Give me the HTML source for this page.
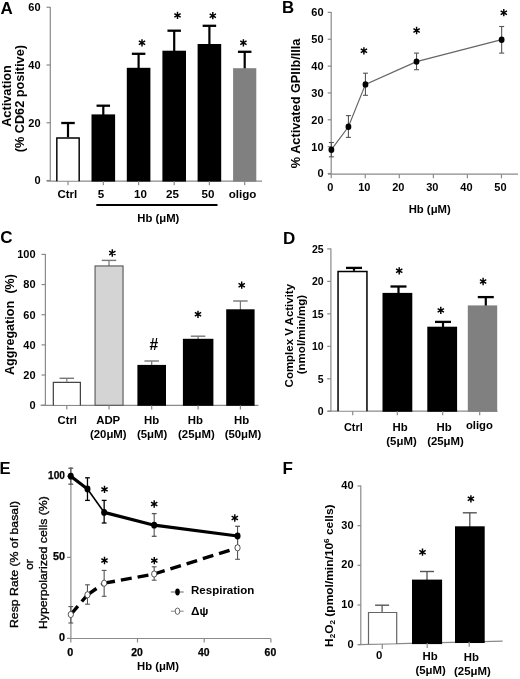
<!DOCTYPE html>
<html><head><meta charset="utf-8"><style>
html,body{margin:0;padding:0;background:#fff;}
svg{display:block;will-change:transform;}
text{font-family:"Liberation Sans", sans-serif;}
</style></head><body>
<svg width="520" height="679" viewBox="0 0 520 679">
<rect width="520" height="679" fill="#fff"/>
<text x="0.60" y="13.75" font-size="17" font-weight="bold" text-anchor="start" fill="#000" >A</text>
<line x1="50.30" y1="7.00" x2="50.30" y2="181.20" stroke="#8a8a8a" stroke-width="1.2" />
<line x1="46.50" y1="7.25" x2="50.30" y2="7.25" stroke="#8a8a8a" stroke-width="1.2" />
<text x="40.60" y="11.15" font-size="11" font-weight="bold" text-anchor="end" fill="#000" >60</text>
<line x1="46.50" y1="65.00" x2="50.30" y2="65.00" stroke="#8a8a8a" stroke-width="1.2" />
<text x="40.60" y="68.90" font-size="11" font-weight="bold" text-anchor="end" fill="#000" >40</text>
<line x1="46.50" y1="122.75" x2="50.30" y2="122.75" stroke="#8a8a8a" stroke-width="1.2" />
<text x="40.60" y="126.65" font-size="11" font-weight="bold" text-anchor="end" fill="#000" >20</text>
<line x1="46.50" y1="180.50" x2="50.30" y2="180.50" stroke="#8a8a8a" stroke-width="1.2" />
<text x="40.60" y="184.40" font-size="11" font-weight="bold" text-anchor="end" fill="#000" >0</text>
<line x1="46.80" y1="181.20" x2="262.00" y2="181.20" stroke="#8a8a8a" stroke-width="1.2" />
<line x1="68.00" y1="123.00" x2="68.00" y2="138.20" stroke="#000" stroke-width="2.2" />
<line x1="61.25" y1="123.00" x2="74.75" y2="123.00" stroke="#000" stroke-width="2.3" />
<rect x="56.10" y="137.20" width="23.80" height="43.30" fill="#fff"/>
<path d="M56.83,181.20V137.92H79.18V181.20" fill="none" stroke="#000" stroke-width="1.45"/>
<line x1="68.00" y1="181.20" x2="68.00" y2="185.20" stroke="#8a8a8a" stroke-width="1.2" />
<line x1="103.30" y1="105.70" x2="103.30" y2="115.40" stroke="#000" stroke-width="2.2" />
<line x1="96.55" y1="105.70" x2="110.05" y2="105.70" stroke="#000" stroke-width="2.3" />
<rect x="91.50" y="114.40" width="23.60" height="67.20" fill="#000"/>
<line x1="103.30" y1="181.20" x2="103.30" y2="185.20" stroke="#8a8a8a" stroke-width="1.2" />
<line x1="138.60" y1="53.80" x2="138.60" y2="68.80" stroke="#000" stroke-width="2.2" />
<line x1="131.85" y1="53.80" x2="145.35" y2="53.80" stroke="#000" stroke-width="2.3" />
<rect x="126.80" y="67.80" width="23.60" height="113.80" fill="#000"/>
<line x1="138.60" y1="181.20" x2="138.60" y2="185.20" stroke="#8a8a8a" stroke-width="1.2" />
<line x1="174.20" y1="30.70" x2="174.20" y2="51.70" stroke="#000" stroke-width="2.2" />
<line x1="167.45" y1="30.70" x2="180.95" y2="30.70" stroke="#000" stroke-width="2.3" />
<rect x="162.40" y="50.70" width="23.60" height="130.90" fill="#000"/>
<line x1="174.20" y1="181.20" x2="174.20" y2="185.20" stroke="#8a8a8a" stroke-width="1.2" />
<line x1="209.40" y1="25.80" x2="209.40" y2="45.00" stroke="#000" stroke-width="2.2" />
<line x1="202.65" y1="25.80" x2="216.15" y2="25.80" stroke="#000" stroke-width="2.3" />
<rect x="197.60" y="44.00" width="23.60" height="137.60" fill="#000"/>
<line x1="209.40" y1="181.20" x2="209.40" y2="185.20" stroke="#8a8a8a" stroke-width="1.2" />
<line x1="244.70" y1="51.80" x2="244.70" y2="69.20" stroke="#000" stroke-width="2.2" />
<line x1="237.95" y1="51.80" x2="251.45" y2="51.80" stroke="#000" stroke-width="2.3" />
<rect x="233.10" y="68.20" width="23.20" height="113.40" fill="#808080"/>
<line x1="244.70" y1="181.20" x2="244.70" y2="185.20" stroke="#8a8a8a" stroke-width="1.2" />
<path d="M142.00,39.15L142.00,46.45M138.84,40.97L145.16,44.62M145.16,40.97L138.84,44.62" stroke="#000" stroke-width="1.45" fill="none"/>
<path d="M177.50,11.75L177.50,19.05M174.34,13.58L180.66,17.23M180.66,13.58L174.34,17.23" stroke="#000" stroke-width="1.45" fill="none"/>
<path d="M212.80,12.05L212.80,19.35M209.64,13.88L215.96,17.52M215.96,13.88L209.64,17.52" stroke="#000" stroke-width="1.45" fill="none"/>
<path d="M243.40,39.15L243.40,46.45M240.24,40.97L246.56,44.62M246.56,40.97L240.24,44.62" stroke="#000" stroke-width="1.45" fill="none"/>
<text x="67.30" y="197.70" font-size="11.6" font-weight="bold" text-anchor="middle" fill="#000" textLength="19.80" lengthAdjust="spacingAndGlyphs" >Ctrl</text>
<text x="101.10" y="197.70" font-size="11.6" font-weight="bold" text-anchor="middle" fill="#000" >5</text>
<text x="140.50" y="197.70" font-size="11.6" font-weight="bold" text-anchor="middle" fill="#000" >10</text>
<text x="172.50" y="197.70" font-size="11.6" font-weight="bold" text-anchor="middle" fill="#000" >25</text>
<text x="207.90" y="197.70" font-size="11.6" font-weight="bold" text-anchor="middle" fill="#000" >50</text>
<text x="242.50" y="197.70" font-size="11.6" font-weight="bold" text-anchor="middle" fill="#000" >oligo</text>
<line x1="96.30" y1="205.00" x2="217.50" y2="205.00" stroke="#000" stroke-width="2.2" />
<text x="158.30" y="221.60" font-size="11.3" font-weight="bold" text-anchor="middle" fill="#000" >Hb (μM)</text>
<text transform="translate(11.40,96.05) rotate(-90)" x="0" y="0" font-size="12.6" font-weight="bold" text-anchor="middle" textLength="61.60" lengthAdjust="spacingAndGlyphs">Activation</text>
<text transform="translate(24.00,98.65) rotate(-90)" x="0" y="0" font-size="12.6" font-weight="bold" text-anchor="middle" textLength="107.20" lengthAdjust="spacingAndGlyphs">(% CD62 positive)</text>
<text x="282.00" y="13.30" font-size="16.8" font-weight="bold" text-anchor="start" fill="#000" >B</text>
<line x1="331.20" y1="12.00" x2="331.20" y2="174.20" stroke="#8a8a8a" stroke-width="1.2" />
<line x1="327.70" y1="12.40" x2="331.20" y2="12.40" stroke="#8a8a8a" stroke-width="1.2" />
<text x="323.60" y="16.30" font-size="11" font-weight="bold" text-anchor="end" fill="#000" >60</text>
<line x1="327.70" y1="39.25" x2="331.20" y2="39.25" stroke="#8a8a8a" stroke-width="1.2" />
<text x="323.60" y="43.15" font-size="11" font-weight="bold" text-anchor="end" fill="#000" >50</text>
<line x1="327.70" y1="66.10" x2="331.20" y2="66.10" stroke="#8a8a8a" stroke-width="1.2" />
<text x="323.60" y="70.00" font-size="11" font-weight="bold" text-anchor="end" fill="#000" >40</text>
<line x1="327.70" y1="92.95" x2="331.20" y2="92.95" stroke="#8a8a8a" stroke-width="1.2" />
<text x="323.60" y="96.85" font-size="11" font-weight="bold" text-anchor="end" fill="#000" >30</text>
<line x1="327.70" y1="119.80" x2="331.20" y2="119.80" stroke="#8a8a8a" stroke-width="1.2" />
<text x="323.60" y="123.70" font-size="11" font-weight="bold" text-anchor="end" fill="#000" >20</text>
<line x1="327.70" y1="146.65" x2="331.20" y2="146.65" stroke="#8a8a8a" stroke-width="1.2" />
<text x="323.60" y="150.55" font-size="11" font-weight="bold" text-anchor="end" fill="#000" >10</text>
<line x1="327.70" y1="173.50" x2="331.20" y2="173.50" stroke="#8a8a8a" stroke-width="1.2" />
<text x="323.60" y="177.40" font-size="11" font-weight="bold" text-anchor="end" fill="#000" >0</text>
<line x1="328.00" y1="174.20" x2="518.00" y2="174.20" stroke="#8a8a8a" stroke-width="1.2" />
<line x1="331.20" y1="174.20" x2="331.20" y2="178.30" stroke="#8a8a8a" stroke-width="1.2" />
<text x="330.20" y="190.80" font-size="11" font-weight="bold" text-anchor="middle" fill="#000" >0</text>
<line x1="365.25" y1="174.20" x2="365.25" y2="178.30" stroke="#8a8a8a" stroke-width="1.2" />
<text x="364.25" y="190.80" font-size="11" font-weight="bold" text-anchor="middle" fill="#000" >10</text>
<line x1="399.30" y1="174.20" x2="399.30" y2="178.30" stroke="#8a8a8a" stroke-width="1.2" />
<text x="398.30" y="190.80" font-size="11" font-weight="bold" text-anchor="middle" fill="#000" >20</text>
<line x1="433.35" y1="174.20" x2="433.35" y2="178.30" stroke="#8a8a8a" stroke-width="1.2" />
<text x="432.35" y="190.80" font-size="11" font-weight="bold" text-anchor="middle" fill="#000" >30</text>
<line x1="467.40" y1="174.20" x2="467.40" y2="178.30" stroke="#8a8a8a" stroke-width="1.2" />
<text x="466.40" y="190.80" font-size="11" font-weight="bold" text-anchor="middle" fill="#000" >40</text>
<line x1="501.45" y1="174.20" x2="501.45" y2="178.30" stroke="#8a8a8a" stroke-width="1.2" />
<text x="500.45" y="190.80" font-size="11" font-weight="bold" text-anchor="middle" fill="#000" >50</text>
<text x="429.70" y="212.80" font-size="11.3" font-weight="bold" text-anchor="middle" fill="#000" >Hb (μM)</text>
<text transform="translate(299.90,103.40) rotate(-90)" x="0" y="0" font-size="12.6" font-weight="bold" text-anchor="middle" textLength="129.60" lengthAdjust="spacingAndGlyphs">% Activated GPIIb/IIIa</text>
<line x1="331.40" y1="142.50" x2="331.40" y2="156.80" stroke="#555" stroke-width="1.1" />
<line x1="328.90" y1="142.50" x2="333.90" y2="142.50" stroke="#555" stroke-width="1.1" />
<line x1="328.90" y1="156.80" x2="333.90" y2="156.80" stroke="#555" stroke-width="1.1" />
<line x1="348.42" y1="115.60" x2="348.42" y2="137.40" stroke="#555" stroke-width="1.1" />
<line x1="345.92" y1="115.60" x2="350.92" y2="115.60" stroke="#555" stroke-width="1.1" />
<line x1="345.92" y1="137.40" x2="350.92" y2="137.40" stroke="#555" stroke-width="1.1" />
<line x1="365.45" y1="73.20" x2="365.45" y2="95.30" stroke="#555" stroke-width="1.1" />
<line x1="362.95" y1="73.20" x2="367.95" y2="73.20" stroke="#555" stroke-width="1.1" />
<line x1="362.95" y1="95.30" x2="367.95" y2="95.30" stroke="#555" stroke-width="1.1" />
<line x1="416.52" y1="53.10" x2="416.52" y2="69.70" stroke="#555" stroke-width="1.1" />
<line x1="414.02" y1="53.10" x2="419.02" y2="53.10" stroke="#555" stroke-width="1.1" />
<line x1="414.02" y1="69.70" x2="419.02" y2="69.70" stroke="#555" stroke-width="1.1" />
<line x1="501.65" y1="26.50" x2="501.65" y2="53.10" stroke="#555" stroke-width="1.1" />
<line x1="499.15" y1="26.50" x2="504.15" y2="26.50" stroke="#555" stroke-width="1.1" />
<line x1="499.15" y1="53.10" x2="504.15" y2="53.10" stroke="#555" stroke-width="1.1" />
<polyline points="331.40,149.70 348.42,126.80 365.45,84.40 416.52,61.60 501.65,39.70" fill="none" stroke="#666" stroke-width="1.2"/>
<ellipse cx="331.40" cy="149.70" rx="2.9" ry="3.2" fill="#000"/>
<ellipse cx="348.42" cy="126.80" rx="2.9" ry="3.2" fill="#000"/>
<ellipse cx="365.45" cy="84.40" rx="2.9" ry="3.2" fill="#000"/>
<ellipse cx="416.52" cy="61.60" rx="2.9" ry="3.2" fill="#000"/>
<ellipse cx="501.65" cy="39.70" rx="2.9" ry="3.2" fill="#000"/>
<path d="M363.90,47.15L363.90,54.45M360.74,48.97L367.06,52.62M367.06,48.97L360.74,52.62" stroke="#000" stroke-width="1.45" fill="none"/>
<path d="M416.60,26.85L416.60,34.15M413.44,28.68L419.76,32.33M419.76,28.68L413.44,32.33" stroke="#000" stroke-width="1.45" fill="none"/>
<path d="M503.80,9.05L503.80,16.35M500.64,10.88L506.96,14.52M506.96,10.88L500.64,14.52" stroke="#000" stroke-width="1.45" fill="none"/>
<text x="0.30" y="243.20" font-size="17" font-weight="bold" text-anchor="start" fill="#000" >C</text>
<line x1="45.40" y1="254.00" x2="45.40" y2="405.60" stroke="#8a8a8a" stroke-width="1.2" />
<line x1="41.50" y1="254.40" x2="45.40" y2="254.40" stroke="#8a8a8a" stroke-width="1.2" />
<text x="35.60" y="258.30" font-size="11" font-weight="bold" text-anchor="end" fill="#000" >100</text>
<line x1="41.50" y1="284.56" x2="45.40" y2="284.56" stroke="#8a8a8a" stroke-width="1.2" />
<text x="35.60" y="288.46" font-size="11" font-weight="bold" text-anchor="end" fill="#000" >80</text>
<line x1="41.50" y1="314.72" x2="45.40" y2="314.72" stroke="#8a8a8a" stroke-width="1.2" />
<text x="35.60" y="318.62" font-size="11" font-weight="bold" text-anchor="end" fill="#000" >60</text>
<line x1="41.50" y1="344.88" x2="45.40" y2="344.88" stroke="#8a8a8a" stroke-width="1.2" />
<text x="35.60" y="348.78" font-size="11" font-weight="bold" text-anchor="end" fill="#000" >40</text>
<line x1="41.50" y1="375.04" x2="45.40" y2="375.04" stroke="#8a8a8a" stroke-width="1.2" />
<text x="35.60" y="378.94" font-size="11" font-weight="bold" text-anchor="end" fill="#000" >20</text>
<line x1="41.50" y1="405.20" x2="45.40" y2="405.20" stroke="#8a8a8a" stroke-width="1.2" />
<text x="35.60" y="409.10" font-size="11" font-weight="bold" text-anchor="end" fill="#000" >0</text>
<line x1="40.60" y1="405.40" x2="258.40" y2="405.40" stroke="#8a8a8a" stroke-width="1.2" />
<line x1="66.80" y1="378.30" x2="66.80" y2="382.70" stroke="#777" stroke-width="1.2" />
<line x1="59.55" y1="378.30" x2="74.05" y2="378.30" stroke="#777" stroke-width="1.4" />
<rect x="52.70" y="381.70" width="28.30" height="23.00" fill="#fff"/>
<path d="M53.33,405.40V382.32H80.38V405.40" fill="none" stroke="#444" stroke-width="1.25"/>
<line x1="66.80" y1="405.40" x2="66.80" y2="409.50" stroke="#8a8a8a" stroke-width="1.2" />
<line x1="109.00" y1="260.40" x2="109.00" y2="266.40" stroke="#777" stroke-width="1.2" />
<line x1="101.75" y1="260.40" x2="116.25" y2="260.40" stroke="#777" stroke-width="1.4" />
<rect x="95.05" y="265.95" width="28.00" height="139.30" fill="#d4d4d4" stroke="#555" stroke-width="1.1"/>
<line x1="109.00" y1="405.40" x2="109.00" y2="409.50" stroke="#8a8a8a" stroke-width="1.2" />
<line x1="151.70" y1="361.00" x2="151.70" y2="365.90" stroke="#777" stroke-width="1.2" />
<line x1="144.45" y1="361.00" x2="158.95" y2="361.00" stroke="#777" stroke-width="1.4" />
<rect x="137.40" y="364.90" width="28.60" height="40.90" fill="#000"/>
<line x1="151.70" y1="405.40" x2="151.70" y2="409.50" stroke="#8a8a8a" stroke-width="1.2" />
<line x1="198.10" y1="336.20" x2="198.10" y2="339.80" stroke="#777" stroke-width="1.2" />
<line x1="190.85" y1="336.20" x2="205.35" y2="336.20" stroke="#777" stroke-width="1.4" />
<rect x="182.90" y="338.80" width="30.50" height="67.00" fill="#000"/>
<line x1="198.10" y1="405.40" x2="198.10" y2="409.50" stroke="#8a8a8a" stroke-width="1.2" />
<line x1="240.40" y1="301.00" x2="240.40" y2="310.30" stroke="#777" stroke-width="1.2" />
<line x1="233.15" y1="301.00" x2="247.65" y2="301.00" stroke="#777" stroke-width="1.4" />
<rect x="226.20" y="309.30" width="28.40" height="96.50" fill="#000"/>
<line x1="240.40" y1="405.40" x2="240.40" y2="409.50" stroke="#8a8a8a" stroke-width="1.2" />
<path d="M112.30,249.35L112.30,256.65M109.14,251.18L115.46,254.82M115.46,251.18L109.14,254.82" stroke="#000" stroke-width="1.45" fill="none"/>
<path d="M198.00,310.65L198.00,317.95M194.84,312.48L201.16,316.12M201.16,312.48L194.84,316.12" stroke="#000" stroke-width="1.45" fill="none"/>
<path d="M241.70,281.55L241.70,288.85M238.54,283.38L244.86,287.02M244.86,283.38L238.54,287.02" stroke="#000" stroke-width="1.45" fill="none"/>
<text x="153.90" y="350.00" font-size="15.6" font-weight="bold" text-anchor="middle" fill="#000" >#</text>
<text x="67.30" y="423.50" font-size="11.3" font-weight="bold" text-anchor="middle" fill="#000" textLength="19.40" lengthAdjust="spacingAndGlyphs" >Ctrl</text>
<text x="108.20" y="424.20" font-size="11.4" font-weight="bold" text-anchor="middle" fill="#000" >ADP</text>
<text x="108.30" y="438.20" font-size="11.4" font-weight="bold" text-anchor="middle" fill="#000" >(20μM)</text>
<text x="151.50" y="424.00" font-size="11.4" font-weight="bold" text-anchor="middle" fill="#000" >Hb</text>
<text x="152.10" y="438.20" font-size="11.4" font-weight="bold" text-anchor="middle" fill="#000" >(5μM)</text>
<text x="195.30" y="424.00" font-size="11.4" font-weight="bold" text-anchor="middle" fill="#000" >Hb</text>
<text x="196.40" y="438.20" font-size="11.4" font-weight="bold" text-anchor="middle" fill="#000" >(25μM)</text>
<text x="241.60" y="424.00" font-size="11.4" font-weight="bold" text-anchor="middle" fill="#000" >Hb</text>
<text x="243.00" y="438.20" font-size="11.4" font-weight="bold" text-anchor="middle" fill="#000" >(50μM)</text>
<text transform="translate(13.70,337.90) rotate(-90)" x="0" y="0" font-size="12.5" font-weight="bold" text-anchor="middle" textLength="74.20" lengthAdjust="spacingAndGlyphs">Aggregation</text>
<text transform="translate(13.70,283.90) rotate(-90)" x="0" y="0" font-size="12.3" font-weight="bold" text-anchor="middle" textLength="19.40" lengthAdjust="spacingAndGlyphs">(%)</text>
<text x="282.90" y="243.60" font-size="17" font-weight="bold" text-anchor="start" fill="#000" >D</text>
<line x1="330.90" y1="248.60" x2="330.90" y2="411.40" stroke="#8a8a8a" stroke-width="1.2" />
<line x1="327.20" y1="248.90" x2="330.90" y2="248.90" stroke="#8a8a8a" stroke-width="1.2" />
<text x="323.60" y="252.60" font-size="10.5" font-weight="bold" text-anchor="end" fill="#000" >25</text>
<line x1="327.20" y1="281.38" x2="330.90" y2="281.38" stroke="#8a8a8a" stroke-width="1.2" />
<text x="323.60" y="285.08" font-size="10.5" font-weight="bold" text-anchor="end" fill="#000" >20</text>
<line x1="327.20" y1="313.86" x2="330.90" y2="313.86" stroke="#8a8a8a" stroke-width="1.2" />
<text x="323.60" y="317.56" font-size="10.5" font-weight="bold" text-anchor="end" fill="#000" >15</text>
<line x1="327.20" y1="346.34" x2="330.90" y2="346.34" stroke="#8a8a8a" stroke-width="1.2" />
<text x="323.60" y="350.04" font-size="10.5" font-weight="bold" text-anchor="end" fill="#000" >10</text>
<line x1="327.20" y1="378.82" x2="330.90" y2="378.82" stroke="#8a8a8a" stroke-width="1.2" />
<text x="323.60" y="382.52" font-size="10.5" font-weight="bold" text-anchor="end" fill="#000" >5</text>
<line x1="327.20" y1="411.30" x2="330.90" y2="411.30" stroke="#8a8a8a" stroke-width="1.2" />
<text x="323.60" y="415.00" font-size="10.5" font-weight="bold" text-anchor="end" fill="#000" >0</text>
<line x1="327.70" y1="411.20" x2="497.50" y2="411.20" stroke="#8a8a8a" stroke-width="1.2" />
<line x1="354.00" y1="267.90" x2="354.00" y2="271.80" stroke="#000" stroke-width="2.2" />
<line x1="346.00" y1="267.90" x2="362.00" y2="267.90" stroke="#000" stroke-width="2.3" />
<rect x="337.30" y="270.80" width="30.40" height="139.70" fill="#fff"/>
<path d="M338.05,411.20V271.55H366.95V411.20" fill="none" stroke="#000" stroke-width="1.5"/>
<line x1="398.50" y1="286.50" x2="398.50" y2="293.90" stroke="#000" stroke-width="2.2" />
<line x1="390.50" y1="286.50" x2="406.50" y2="286.50" stroke="#000" stroke-width="2.3" />
<rect x="382.50" y="292.90" width="29.80" height="118.90" fill="#000"/>
<line x1="443.00" y1="321.90" x2="443.00" y2="327.70" stroke="#000" stroke-width="2.2" />
<line x1="435.00" y1="321.90" x2="451.00" y2="321.90" stroke="#000" stroke-width="2.3" />
<rect x="427.30" y="326.70" width="29.80" height="85.10" fill="#000"/>
<line x1="485.80" y1="297.10" x2="485.80" y2="306.40" stroke="#000" stroke-width="2.2" />
<line x1="477.80" y1="297.10" x2="493.80" y2="297.10" stroke="#000" stroke-width="2.3" />
<rect x="467.80" y="305.40" width="29.40" height="106.40" fill="#808080"/>
<line x1="352.70" y1="411.20" x2="352.70" y2="415.30" stroke="#8a8a8a" stroke-width="1.2" />
<line x1="397.30" y1="411.20" x2="397.30" y2="415.30" stroke="#8a8a8a" stroke-width="1.2" />
<line x1="442.70" y1="411.20" x2="442.70" y2="415.30" stroke="#8a8a8a" stroke-width="1.2" />
<line x1="479.70" y1="411.20" x2="479.70" y2="415.30" stroke="#8a8a8a" stroke-width="1.2" />
<path d="M399.20,267.15L399.20,274.45M396.04,268.98L402.36,272.62M402.36,268.98L396.04,272.62" stroke="#000" stroke-width="1.45" fill="none"/>
<path d="M440.80,306.75L440.80,314.05M437.64,308.57L443.96,312.22M443.96,308.57L437.64,312.22" stroke="#000" stroke-width="1.45" fill="none"/>
<path d="M483.10,277.85L483.10,285.15M479.94,279.68L486.26,283.32M486.26,279.68L479.94,283.32" stroke="#000" stroke-width="1.45" fill="none"/>
<text x="353.30" y="431.20" font-size="11.3" font-weight="bold" text-anchor="middle" fill="#000" textLength="18.80" lengthAdjust="spacingAndGlyphs" >Ctrl</text>
<text x="400.20" y="431.20" font-size="11.4" font-weight="bold" text-anchor="middle" fill="#000" >Hb</text>
<text x="401.50" y="444.60" font-size="11.4" font-weight="bold" text-anchor="middle" fill="#000" >(5μM)</text>
<text x="444.00" y="431.20" font-size="11.4" font-weight="bold" text-anchor="middle" fill="#000" >Hb</text>
<text x="445.50" y="444.60" font-size="11.4" font-weight="bold" text-anchor="middle" fill="#000" >(25μM)</text>
<text x="479.40" y="428.70" font-size="11.3" font-weight="bold" text-anchor="middle" fill="#000" >oligo</text>
<text transform="translate(292.60,335.70) rotate(-90)" x="0" y="0" font-size="11.4" font-weight="bold" text-anchor="middle" textLength="103.40" lengthAdjust="spacingAndGlyphs">Complex V Activity</text>
<text transform="translate(304.50,334.60) rotate(-90)" x="0" y="0" font-size="11.5" font-weight="bold" text-anchor="middle" textLength="79.30" lengthAdjust="spacingAndGlyphs">(nmol/min/mg)</text>
<text x="-0.60" y="473.80" font-size="16.5" font-weight="bold" text-anchor="start" fill="#000" >E</text>
<line x1="70.90" y1="467.00" x2="70.90" y2="638.80" stroke="#8a8a8a" stroke-width="1.2" />
<line x1="67.00" y1="476.20" x2="70.90" y2="476.20" stroke="#8a8a8a" stroke-width="1.2" />
<text x="65.00" y="478.70" font-size="10.3" font-weight="bold" text-anchor="end" fill="#000" textLength="16.90" lengthAdjust="spacingAndGlyphs" stroke="#000" stroke-width="0.25">100</text>
<line x1="67.00" y1="557.40" x2="70.90" y2="557.40" stroke="#8a8a8a" stroke-width="1.2" />
<text x="65.00" y="559.90" font-size="10.3" font-weight="bold" text-anchor="end" fill="#000" textLength="12.00" lengthAdjust="spacingAndGlyphs" stroke="#000" stroke-width="0.25">50</text>
<line x1="67.00" y1="638.40" x2="70.90" y2="638.40" stroke="#8a8a8a" stroke-width="1.2" />
<text x="65.00" y="640.90" font-size="10.3" font-weight="bold" text-anchor="end" fill="#000" textLength="6.00" lengthAdjust="spacingAndGlyphs" stroke="#000" stroke-width="0.25">0</text>
<line x1="68.30" y1="638.50" x2="270.80" y2="638.50" stroke="#8a8a8a" stroke-width="1.2" />
<line x1="70.80" y1="638.50" x2="70.80" y2="642.50" stroke="#8a8a8a" stroke-width="1.2" />
<text x="70.30" y="656.30" font-size="10.3" font-weight="bold" text-anchor="middle" fill="#000" textLength="6.00" lengthAdjust="spacingAndGlyphs" stroke="#000" stroke-width="0.25">0</text>
<line x1="137.50" y1="638.50" x2="137.50" y2="642.50" stroke="#8a8a8a" stroke-width="1.2" />
<text x="137.00" y="656.30" font-size="10.3" font-weight="bold" text-anchor="middle" fill="#000" textLength="11.60" lengthAdjust="spacingAndGlyphs" stroke="#000" stroke-width="0.25">20</text>
<line x1="204.20" y1="638.50" x2="204.20" y2="642.50" stroke="#8a8a8a" stroke-width="1.2" />
<text x="203.70" y="656.30" font-size="10.3" font-weight="bold" text-anchor="middle" fill="#000" textLength="11.60" lengthAdjust="spacingAndGlyphs" stroke="#000" stroke-width="0.25">40</text>
<line x1="270.90" y1="638.50" x2="270.90" y2="642.50" stroke="#8a8a8a" stroke-width="1.2" />
<text x="270.40" y="656.30" font-size="10.3" font-weight="bold" text-anchor="middle" fill="#000" textLength="11.60" lengthAdjust="spacingAndGlyphs" stroke="#000" stroke-width="0.25">60</text>
<text x="158.00" y="670.40" font-size="11.3" font-weight="bold" text-anchor="middle" fill="#000" >Hb (μM)</text>
<line x1="70.80" y1="606.60" x2="70.80" y2="623.00" stroke="#555" stroke-width="1.1" />
<line x1="68.40" y1="606.60" x2="73.20" y2="606.60" stroke="#555" stroke-width="1.1" />
<line x1="68.40" y1="623.00" x2="73.20" y2="623.00" stroke="#555" stroke-width="1.1" />
<line x1="87.47" y1="584.80" x2="87.47" y2="604.20" stroke="#555" stroke-width="1.1" />
<line x1="85.07" y1="584.80" x2="89.88" y2="584.80" stroke="#555" stroke-width="1.1" />
<line x1="85.07" y1="604.20" x2="89.88" y2="604.20" stroke="#555" stroke-width="1.1" />
<line x1="104.15" y1="570.40" x2="104.15" y2="596.30" stroke="#555" stroke-width="1.1" />
<line x1="101.75" y1="570.40" x2="106.55" y2="570.40" stroke="#555" stroke-width="1.1" />
<line x1="101.75" y1="596.30" x2="106.55" y2="596.30" stroke="#555" stroke-width="1.1" />
<line x1="154.18" y1="566.80" x2="154.18" y2="580.20" stroke="#555" stroke-width="1.1" />
<line x1="151.78" y1="566.80" x2="156.58" y2="566.80" stroke="#555" stroke-width="1.1" />
<line x1="151.78" y1="580.20" x2="156.58" y2="580.20" stroke="#555" stroke-width="1.1" />
<line x1="237.55" y1="536.30" x2="237.55" y2="559.30" stroke="#555" stroke-width="1.1" />
<line x1="235.15" y1="536.30" x2="239.95" y2="536.30" stroke="#555" stroke-width="1.1" />
<line x1="235.15" y1="559.30" x2="239.95" y2="559.30" stroke="#555" stroke-width="1.1" />
<line x1="70.80" y1="468.20" x2="70.80" y2="484.20" stroke="#555" stroke-width="1.1" />
<line x1="68.40" y1="468.20" x2="73.20" y2="468.20" stroke="#555" stroke-width="1.3" />
<line x1="68.40" y1="484.20" x2="73.20" y2="484.20" stroke="#555" stroke-width="1.3" />
<line x1="87.47" y1="477.80" x2="87.47" y2="500.40" stroke="#000" stroke-width="1.3" />
<line x1="85.07" y1="477.80" x2="89.88" y2="477.80" stroke="#000" stroke-width="1.3" />
<line x1="85.07" y1="500.40" x2="89.88" y2="500.40" stroke="#000" stroke-width="1.3" />
<line x1="104.15" y1="500.40" x2="104.15" y2="523.00" stroke="#000" stroke-width="1.3" />
<line x1="101.75" y1="500.40" x2="106.55" y2="500.40" stroke="#000" stroke-width="1.3" />
<line x1="101.75" y1="523.00" x2="106.55" y2="523.00" stroke="#000" stroke-width="1.3" />
<line x1="154.18" y1="513.60" x2="154.18" y2="536.30" stroke="#555" stroke-width="1.1" />
<line x1="151.78" y1="513.60" x2="156.58" y2="513.60" stroke="#555" stroke-width="1.3" />
<line x1="151.78" y1="536.30" x2="156.58" y2="536.30" stroke="#555" stroke-width="1.3" />
<line x1="237.55" y1="526.30" x2="237.55" y2="545.70" stroke="#555" stroke-width="1.1" />
<line x1="235.15" y1="526.30" x2="239.95" y2="526.30" stroke="#555" stroke-width="1.3" />
<line x1="235.15" y1="545.70" x2="239.95" y2="545.70" stroke="#555" stroke-width="1.3" />
<line x1="70.80" y1="476.20" x2="87.47" y2="489.00" stroke="#000" stroke-width="3.2" />
<line x1="87.47" y1="489.00" x2="104.15" y2="512.40" stroke="#000" stroke-width="1.6" />
<polyline points="104.15,512.40 154.18,525.20 237.55,536.00" fill="none" stroke="#000" stroke-width="3.2"/>
<line x1="70.80" y1="614.50" x2="87.47" y2="594.80" stroke="#000" stroke-width="3.4" stroke-dasharray="11 6"/>
<line x1="87.47" y1="594.80" x2="104.15" y2="583.20" stroke="#000" stroke-width="3.4" stroke-dasharray="11 6"/>
<line x1="104.15" y1="583.20" x2="154.18" y2="574.00" stroke="#000" stroke-width="3.4" stroke-dasharray="11 6"/>
<line x1="154.18" y1="574.00" x2="237.55" y2="547.80" stroke="#000" stroke-width="3.4" stroke-dasharray="11 6"/>
<ellipse cx="70.80" cy="476.20" rx="3.0" ry="3.4" fill="#000"/>
<ellipse cx="87.47" cy="489.00" rx="3.0" ry="3.4" fill="#000"/>
<ellipse cx="104.15" cy="512.40" rx="3.0" ry="3.4" fill="#000"/>
<ellipse cx="154.18" cy="525.20" rx="3.0" ry="3.4" fill="#000"/>
<ellipse cx="237.55" cy="536.00" rx="3.0" ry="3.4" fill="#000"/>
<ellipse cx="70.80" cy="614.50" rx="2.6" ry="3.1" fill="#fff" stroke="#444" stroke-width="0.9"/>
<ellipse cx="87.47" cy="594.80" rx="2.6" ry="3.1" fill="#fff" stroke="#444" stroke-width="0.9"/>
<ellipse cx="104.15" cy="583.20" rx="2.6" ry="3.1" fill="#fff" stroke="#444" stroke-width="0.9"/>
<ellipse cx="154.18" cy="574.00" rx="2.6" ry="3.1" fill="#fff" stroke="#444" stroke-width="0.9"/>
<ellipse cx="237.55" cy="547.80" rx="2.6" ry="3.1" fill="#fff" stroke="#444" stroke-width="0.9"/>
<path d="M104.50,485.75L104.50,493.05M101.34,487.57L107.66,491.22M107.66,487.57L101.34,491.22" stroke="#000" stroke-width="1.45" fill="none"/>
<path d="M154.20,500.35L154.20,507.65M151.04,502.18L157.36,505.82M157.36,502.18L151.04,505.82" stroke="#000" stroke-width="1.45" fill="none"/>
<path d="M234.80,514.35L234.80,521.65M231.64,516.17L237.96,519.83M237.96,516.17L231.64,519.83" stroke="#000" stroke-width="1.45" fill="none"/>
<path d="M104.50,556.85L104.50,564.15M101.34,558.67L107.66,562.33M107.66,558.67L101.34,562.33" stroke="#000" stroke-width="1.45" fill="none"/>
<path d="M154.30,556.95L154.30,564.25M151.14,558.77L157.46,562.43M157.46,558.77L151.14,562.43" stroke="#000" stroke-width="1.45" fill="none"/>
<line x1="170.80" y1="592.00" x2="183.70" y2="592.00" stroke="#666" stroke-width="1.0" />
<ellipse cx="177.5" cy="592.0" rx="2.3" ry="3.4" fill="#000"/>
<text x="191.00" y="594.40" font-size="11.5" font-weight="bold" text-anchor="start" fill="#000" textLength="63.40" lengthAdjust="spacingAndGlyphs" >Respiration</text>
<line x1="170.80" y1="611.20" x2="183.70" y2="611.20" stroke="#888" stroke-width="1.0" />
<ellipse cx="177.5" cy="611.2" rx="2.3" ry="3.2" fill="#fff" stroke="#555" stroke-width="0.9"/>
<text x="191.00" y="615.20" font-size="11.8" font-weight="bold" text-anchor="start" fill="#000" >Δψ</text>
<text transform="translate(18.30,564.50) rotate(-90)" x="0" y="0" font-size="11.8" font-weight="normal" text-anchor="middle" textLength="127.00" lengthAdjust="spacingAndGlyphs" stroke="#000" stroke-width="0.35">Resp Rate (% of basal)</text>
<text transform="translate(32.70,564.60) rotate(-90)" x="0" y="0" font-size="11.8" font-weight="normal" text-anchor="middle" stroke="#000" stroke-width="0.35">or</text>
<text transform="translate(46.80,562.60) rotate(-90)" x="0" y="0" font-size="11.8" font-weight="normal" text-anchor="middle" textLength="132.80" lengthAdjust="spacingAndGlyphs" stroke="#000" stroke-width="0.35">Hyperpolarized cells (%)</text>
<text x="282.40" y="473.70" font-size="17" font-weight="bold" text-anchor="start" fill="#000" >F</text>
<line x1="360.80" y1="485.60" x2="360.80" y2="644.80" stroke="#8a8a8a" stroke-width="1.2" />
<line x1="357.50" y1="486.00" x2="360.80" y2="486.00" stroke="#8a8a8a" stroke-width="1.2" />
<text x="353.60" y="489.10" font-size="11" font-weight="bold" text-anchor="end" fill="#000" >40</text>
<line x1="357.50" y1="525.66" x2="360.80" y2="525.66" stroke="#8a8a8a" stroke-width="1.2" />
<text x="353.60" y="528.76" font-size="11" font-weight="bold" text-anchor="end" fill="#000" >30</text>
<line x1="357.50" y1="565.32" x2="360.80" y2="565.32" stroke="#8a8a8a" stroke-width="1.2" />
<text x="353.60" y="568.42" font-size="11" font-weight="bold" text-anchor="end" fill="#000" >20</text>
<line x1="357.50" y1="604.98" x2="360.80" y2="604.98" stroke="#8a8a8a" stroke-width="1.2" />
<text x="353.60" y="608.08" font-size="11" font-weight="bold" text-anchor="end" fill="#000" >10</text>
<line x1="357.50" y1="644.64" x2="360.80" y2="644.64" stroke="#8a8a8a" stroke-width="1.2" />
<text x="353.60" y="647.74" font-size="11" font-weight="bold" text-anchor="end" fill="#000" >0</text>
<line x1="358.60" y1="644.70" x2="502.70" y2="641.10" stroke="#8a8a8a" stroke-width="1.2" />
<line x1="382.10" y1="605.20" x2="382.10" y2="612.90" stroke="#555" stroke-width="1.3" />
<line x1="375.10" y1="605.20" x2="389.10" y2="605.20" stroke="#555" stroke-width="1.4" />
<rect x="367.90" y="611.90" width="29.40" height="31.40" fill="#fff"/>
<path d="M368.50,644.00V612.50H396.70V644.00" fill="none" stroke="#666" stroke-width="1.2"/>
<line x1="427.00" y1="571.50" x2="427.00" y2="580.60" stroke="#555" stroke-width="1.3" />
<line x1="420.00" y1="571.50" x2="434.00" y2="571.50" stroke="#555" stroke-width="1.4" />
<rect x="412.00" y="579.60" width="30.10" height="64.49" fill="#000"/>
<line x1="469.80" y1="512.80" x2="469.80" y2="527.30" stroke="#555" stroke-width="1.3" />
<line x1="462.80" y1="512.80" x2="476.80" y2="512.80" stroke="#555" stroke-width="1.4" />
<rect x="455.00" y="526.30" width="29.70" height="116.72" fill="#000"/>
<line x1="382.30" y1="644.01" x2="382.30" y2="649.01" stroke="#8a8a8a" stroke-width="1.2" />
<line x1="427.20" y1="642.88" x2="427.20" y2="647.88" stroke="#8a8a8a" stroke-width="1.2" />
<line x1="469.20" y1="641.84" x2="469.20" y2="646.84" stroke="#8a8a8a" stroke-width="1.2" />
<path d="M422.50,548.55L422.50,555.85M419.34,550.38L425.66,554.03M425.66,550.38L419.34,554.03" stroke="#000" stroke-width="1.45" fill="none"/>
<path d="M470.90,495.15L470.90,502.45M467.74,496.98L474.06,500.62M474.06,496.98L467.74,500.62" stroke="#000" stroke-width="1.45" fill="none"/>
<text x="379.10" y="659.40" font-size="11.4" font-weight="bold" text-anchor="middle" fill="#000" >0</text>
<text x="430.00" y="660.40" font-size="11.4" font-weight="bold" text-anchor="middle" fill="#000" >Hb</text>
<text x="430.60" y="674.00" font-size="11.4" font-weight="bold" text-anchor="middle" fill="#000" >(5μM)</text>
<text x="471.40" y="661.00" font-size="11.4" font-weight="bold" text-anchor="middle" fill="#000" >Hb</text>
<text x="472.40" y="674.60" font-size="11.4" font-weight="bold" text-anchor="middle" fill="#000" >(25μM)</text>
<text transform="translate(332.7,575.7) rotate(-90)" x="0" y="0" font-size="11.8" font-weight="bold" text-anchor="middle" textLength="142.5" lengthAdjust="spacingAndGlyphs">H<tspan font-size="8" dy="2.6">2</tspan><tspan dy="-2.6">O</tspan><tspan font-size="8" dy="2.6">2</tspan><tspan dy="-2.6"> (pmol/min/10</tspan><tspan font-size="8" dy="-4.2">6</tspan><tspan dy="4.2">  cells)</tspan></text>
</svg></body></html>
